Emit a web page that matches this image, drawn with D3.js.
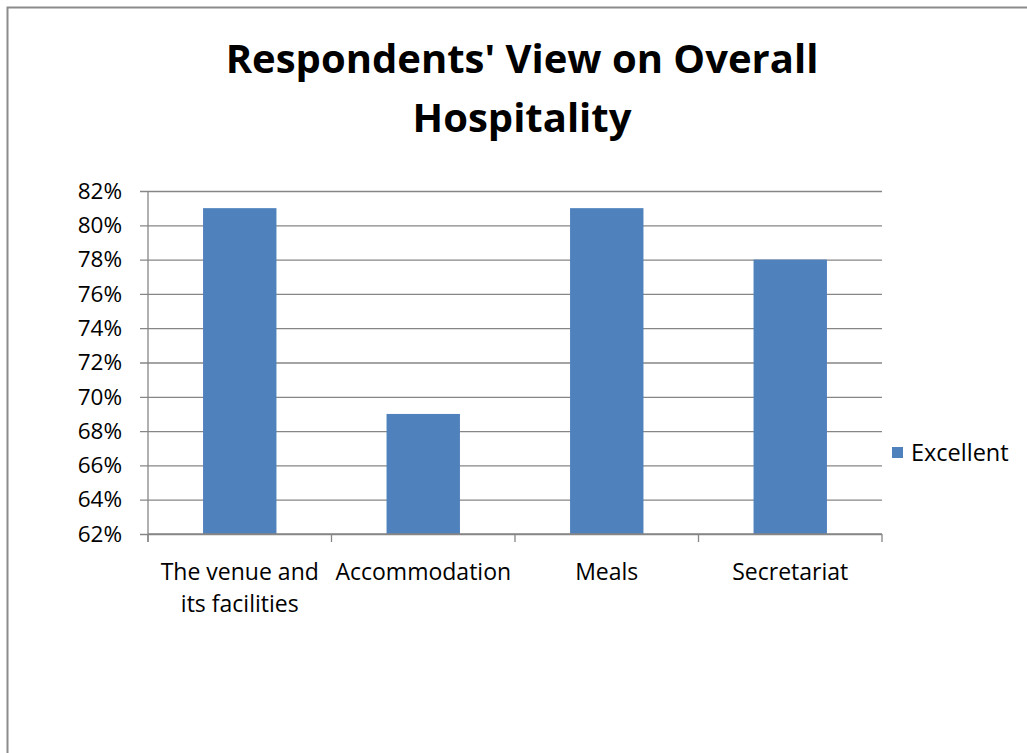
<!DOCTYPE html>
<html>
<head>
<meta charset="utf-8">
<script src="https://cdn.jsdelivr.net/npm/d3@7"></script>
<style>
  body { margin: 0; background: #fff; }
  svg text { font-family: "Open Sans", "Noto Sans", sans-serif; fill: #000; }
</style>
</head>
<body>
<svg id="chart" width="1027" height="753"></svg>
<script>
var categories = ["The venue and its facilities", "Accommodation", "Meals", "Secretariat"];
var labelLines = [["The venue and", "its facilities"], ["Accommodation"], ["Meals"], ["Secretariat"]];
var excellent = [0.81, 0.69, 0.81, 0.78];
var yTicks = [0.62, 0.64, 0.66, 0.68, 0.70, 0.72, 0.74, 0.76, 0.78, 0.80, 0.82];
var seriesName = "Excellent";
var titleLines = ["Respondents' View on Overall", "Hospitality"];

var svg = d3.select("#chart");

// outer frame (only left and top show in the picture)
svg.append("path")
  .attr("d", "M7.5,753 L7.5,7.5 L1027,7.5")
  .attr("fill", "none")
  .attr("stroke", "#8c8c8c")
  .attr("stroke-width", 2);

var margin = { top: 191, left: 148 },
  width = 882 - 148,
  height = 534 - 191;

var g = svg.append("g")
  .attr("transform", "translate(" + margin.left + "," + margin.top + ")");

var xScale = d3.scaleBand().domain(categories).range([0, width]).paddingInner(0.6).paddingOuter(0.3);
var xEdges = d3.scaleLinear().domain([0, categories.length]).range([0, width]);
var yScale = d3.scaleLinear().domain([0.62, 0.82]).range([height, 0]);

// y gridlines + ticks
var yAxis = d3.axisLeft(yScale)
  .tickValues(yTicks)
  .tickFormat(d3.format(".0%"))
  .tickSize(-width - 8);
var ya = g.append("g").call(yAxis);
ya.select(".domain").remove();
ya.selectAll(".tick line")
  .attr("x1", -8)
  .attr("x2", width)
  .attr("stroke", "#868686")
  .attr("stroke-width", 1.3);
ya.selectAll(".tick text")
  .attr("x", -26)
  .style("font-size", "22.5px")
  .attr("fill", "#000");

// bars
g.selectAll(".bar")
  .data(excellent)
  .enter()
  .append("rect")
  .attr("class", "bar")
  .attr("x", function (d, i) { return xScale(categories[i]); })
  .attr("width", xScale.bandwidth())
  .attr("y", function (d) { return yScale(d); })
  .attr("height", function (d) { return height - yScale(d); })
  .attr("fill", "#4f81bd");

// y axis line
g.append("line")
  .attr("x1", 0).attr("x2", 0)
  .attr("y1", 0).attr("y2", height + 8)
  .attr("stroke", "#868686")
  .attr("stroke-width", 1.3);

// x axis line with tick marks between categories
g.append("line")
  .attr("x1", 0).attr("x2", width)
  .attr("y1", height).attr("y2", height)
  .attr("stroke", "#868686")
  .attr("stroke-width", 1.3);
g.selectAll(".xtick")
  .data(d3.range(categories.length + 1))
  .enter()
  .append("line")
  .attr("x1", function (d) { return xEdges(d); })
  .attr("x2", function (d) { return xEdges(d); })
  .attr("y1", height)
  .attr("y2", height + 8)
  .attr("stroke", "#868686")
  .attr("stroke-width", 1.3);

// category labels
var lab = g.selectAll(".xlabel")
  .data(categories)
  .enter()
  .append("text")
  .attr("class", "xlabel")
  .attr("text-anchor", "middle")
  .style("font-size", "23px")
  .attr("transform", function (d) {
    return "translate(" + (xScale(d) + xScale.bandwidth() / 2) + "," + (height + 46) + ")";
  });
lab.each(function (d, i) {
  var t = d3.select(this);
  labelLines[i].forEach(function (line, j) {
    t.append("tspan").attr("x", 0).attr("dy", j === 0 ? 0 : 32).text(line);
  });
});

// title
var title = svg.append("text")
  .attr("text-anchor", "middle")
  .attr("x", 522)
  .attr("y", 73)
  .style("font-size", "40px")
  .style("font-weight", "bold");
titleLines.forEach(function (line, j) {
  title.append("tspan").attr("x", 522).attr("dy", j === 0 ? 0 : 59).text(line);
});

// legend
svg.append("rect")
  .attr("x", 892)
  .attr("y", 447)
  .attr("width", 11)
  .attr("height", 11)
  .attr("fill", "#4f81bd");
svg.append("text")
  .attr("x", 911)
  .attr("y", 461)
  .style("font-size", "23.5px")
  .text(seriesName);
</script>
</body>
</html>
